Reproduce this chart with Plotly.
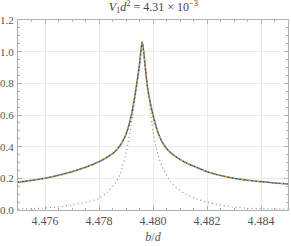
import plotly.graph_objects as go

# main resonance curve
x_main = [4.4750, 4.4755, 4.4760, 4.4765, 4.4770, 4.4775, 4.4780, 4.4783, 4.4786,
          4.4788, 4.4790, 4.4792, 4.4794, 4.4795, 4.4796, 4.4797, 4.4798, 4.4800,
          4.4802, 4.4804, 4.4806, 4.4808, 4.4812, 4.4816, 4.4820, 4.4825, 4.4830,
          4.4835, 4.4840, 4.4845, 4.4850]
y_main = [0.176, 0.187, 0.200, 0.219, 0.242, 0.270, 0.305, 0.333, 0.370,
          0.412, 0.478, 0.600, 0.800, 0.920, 1.060, 0.930, 0.770, 0.600,
          0.482, 0.412, 0.370, 0.342, 0.300, 0.270, 0.242, 0.218, 0.200,
          0.188, 0.179, 0.171, 0.164]

# narrow comparison curve (gray dotted)
x_narrow = [4.4750, 4.4755, 4.4760, 4.4765, 4.4770, 4.4775, 4.4780, 4.4783, 4.4786,
            4.4788, 4.4790, 4.4792, 4.4794, 4.4795, 4.4796, 4.4797, 4.4798, 4.4800,
            4.4802, 4.4804, 4.4806, 4.4808, 4.4812, 4.4816, 4.4820, 4.4824, 4.4830,
            4.4835, 4.4840, 4.4850]
y_narrow = [0.006, 0.008, 0.013, 0.020, 0.032, 0.048, 0.074, 0.112, 0.170,
            0.235, 0.360, 0.540, 0.780, 0.900, 1.060, 0.900, 0.780, 0.500,
            0.340, 0.250, 0.190, 0.150, 0.100, 0.072, 0.050, 0.034, 0.018,
            0.011, 0.008, 0.005]

x_ticks = [4.476, 4.478, 4.480, 4.482, 4.484]
y_ticks = [0.0, 0.2, 0.4, 0.6, 0.8, 1.0, 1.2]

SERIF = "'Liberation Serif', 'Times New Roman', Times, serif"

fig = go.Figure()
fig.add_trace(go.Scatter(x=x_narrow, y=y_narrow, mode="lines",
                         line=dict(color="#8c8c8c", width=1.2, dash="1px,3px", shape="spline", smoothing=0.8)))
fig.add_trace(go.Scatter(x=x_main, y=y_main, mode="lines",
                         line=dict(color="#5E81B5", width=1.6, shape="spline", smoothing=0.8)))
fig.add_trace(go.Scatter(x=x_main, y=y_main, mode="lines",
                         line=dict(color="#E19C24", width=1.3, dash="4px,4px", shape="spline", smoothing=0.8)))
fig.add_trace(go.Scatter(x=x_main, y=y_main, mode="lines",
                         line=dict(color="#222222", width=1.0, dash="1px,3px", shape="spline", smoothing=0.8)))

axis_common = dict(
    showline=True, linecolor="#b0b0b0", linewidth=1, mirror="ticks",
    ticks="inside", ticklen=4, tickcolor="#b0b0b0", tickwidth=0.8,
    showgrid=True, gridcolor="#ebebeb", gridwidth=1,
    zeroline=False, automargin=False,
)

fig.update_layout(
    width=291, height=246,
    margin=dict(l=18, r=3, t=20, b=36),
    paper_bgcolor="white", plot_bgcolor="white",
    showlegend=False,
    font=dict(family=SERIF),
    title=dict(text="<i>V</i><sub>1</sub><i>d</i><sup>2</sup> = 4.31 × 10<sup>−3</sup>",
               x=0.527, xanchor="center", y=0.99, yanchor="top",
               font=dict(family=SERIF, size=12, color="#444444")),
)
fig.update_xaxes(range=[4.475, 4.485], tickvals=x_ticks,
                 ticktext=[f"{v:.3f}" for v in x_ticks],
                 tickfont=dict(family=SERIF, size=12, color="#555555"),
                 minor=dict(ticks="inside", ticklen=2, dtick=0.0005, tickcolor="#b0b0b0", showgrid=False),
                 title=dict(text="<i>b</i>/<i>d</i>", standoff=5,
                            font=dict(family=SERIF, size=12, color="#555555")),
                 **axis_common)
fig.update_yaxes(range=[0, 1.2], tickvals=y_ticks,
                 ticktext=[f"{v:.1f}" for v in y_ticks],
                 tickfont=dict(family=SERIF, size=11, color="#555555"),
                 ticklabelstandoff=1,
                 minor=dict(ticks="inside", ticklen=2, dtick=0.05, tickcolor="#b0b0b0", showgrid=False),
                 **axis_common)

fig.write_html("out.html", config={"displayModeBar": False},
               post_script="document.body.style.margin='0px';")
